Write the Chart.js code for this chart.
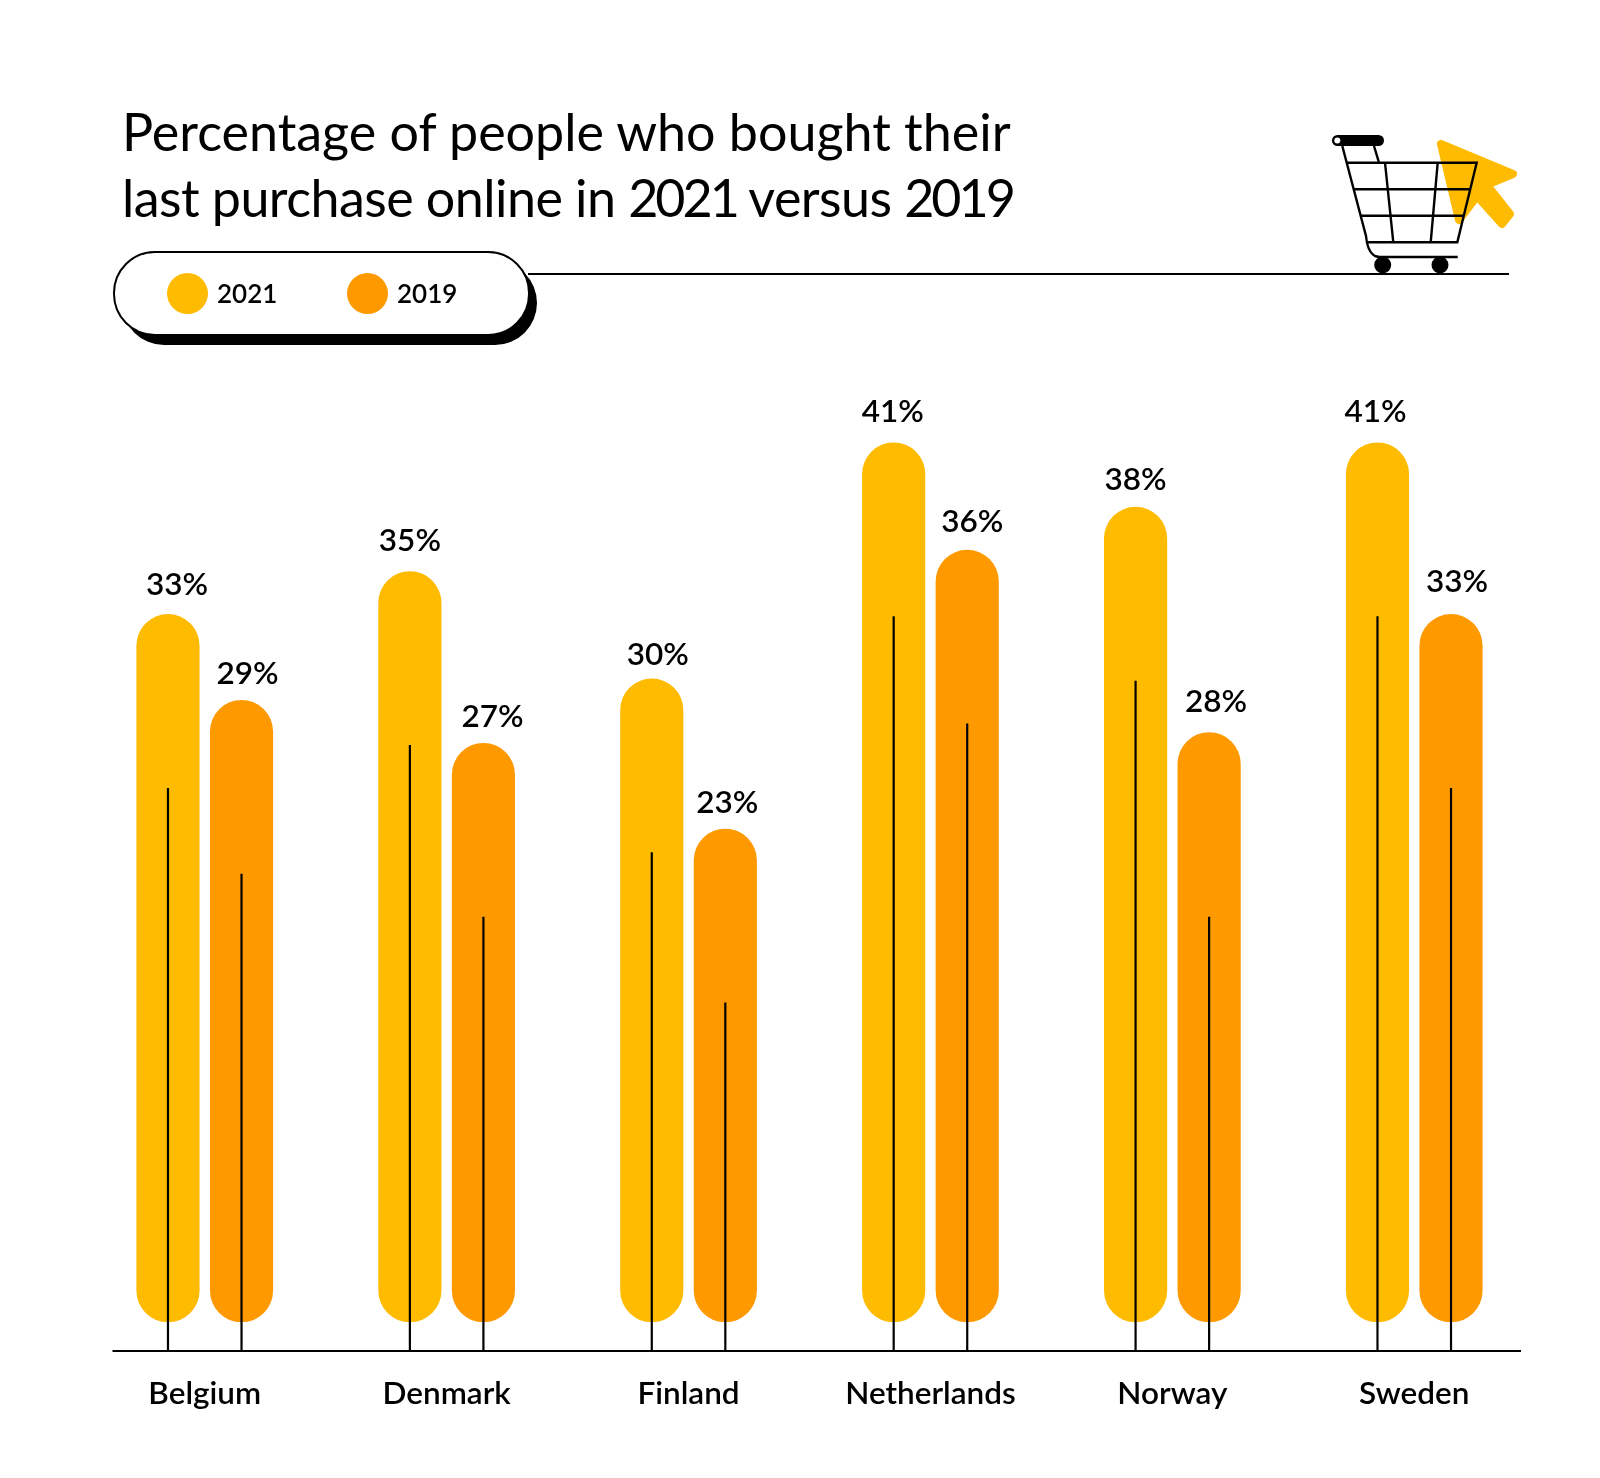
<!DOCTYPE html>
<html><head><meta charset="utf-8">
<script src="https://cdn.jsdelivr.net/npm/chart.js@4"></script>
<style>
html,body{margin:0;padding:0;background:#fff;width:1600px;height:1478px;overflow:hidden}
#wrap{position:relative;width:1600px;height:1478px}
canvas{position:absolute;left:0;top:0}
.t{position:absolute;font-family:Lato,sans-serif;color:#000;white-space:nowrap}
#title{left:122px;top:98px;font-size:52px;line-height:66px}
#title .l2{letter-spacing:-.55px}
#title .d{letter-spacing:-3px}
#shadow{position:absolute;left:122px;top:261px;width:415px;height:84px;border-radius:42px;background:#000}
#pill{position:absolute;left:113px;top:251px;width:413px;height:81px;border:2px solid #000;border-radius:42px;background:#fff}
.dot{position:absolute;top:273px;width:41px;height:41px;border-radius:50%}
.leg{top:276px;font-size:26px;line-height:34px;font-weight:600}
svg{position:absolute;left:0;top:0}
</style></head><body>
<div id="wrap">
<canvas id="c" width="1600" height="1478"></canvas>
<svg width="1600" height="1478" fill="none" stroke="#000">
<line x1="528" y1="274" x2="1509" y2="274" stroke-width="2.2"/>
<polygon points="1441,144 1513,174 1484,186 1491,190 1510,214 1502,224 1477,196 1459,220" fill="#FFBB00" stroke="#FFBB00" stroke-width="8" stroke-linejoin="round"/>
<g stroke-width="2.4">
<path d="M1342.3 146 L1366 236 Q1368 257 1380 257 L1457.7 257"/>
<path d="M1374 146 L1379 162.7"/>
<path d="M1346.7 162.7 H1476.7 L1457.3 242.3 H1366.7"/>
<path d="M1353.3 189.3 H1470 M1360 215.7 H1463.3"/>
<path d="M1385 162.7 L1393.3 242.3 M1437.7 162.7 L1430.7 242.3"/>
</g>
<rect x="1332" y="135" width="52" height="11" rx="5.5" fill="#000" stroke="none"/>
<circle cx="1337.3" cy="140.5" r="3" fill="#fff" stroke="none"/>
<circle cx="1382.7" cy="265" r="8.5" fill="#000" stroke="none"/>
<circle cx="1440" cy="265" r="8.5" fill="#000" stroke="none"/>
</svg>
<div id="shadow"></div><div id="pill"></div>
<div class="t" id="title">Percentage of people who bought their<br><span class="l2">last purchase online in <span class="d">2021</span> versus <span class="d">2019</span></span></div>
<div class="dot" style="left:167px;background:#FFBB00"></div><div class="t leg" style="left:217px">2021</div>
<div class="dot" style="left:347px;background:#FF9900"></div><div class="t leg" style="left:397px">2019</div>
</div>
<script>
const categories = ["Belgium","Denmark","Finland","Netherlands","Norway","Sweden"];
const values2021 = [33,35,30,41,38,41];
const values2019 = [29,27,23,36,27.5,33];
const stems2021 = [24.9,26.9,21.9,32.9,29.9,32.9];
const stems2019 = [20.9,18.9,14.9,27.9,18.9,24.9];
const seriesNames = ["2021","2019"];
const labelDx = [[9,0,6,-1,0,-2],[6,9,2,5,7,6]];
const labelGap = [[29,30,24,31,27,31],[26,26,26,28,30,32]];
const stems = [stems2021,stems2019];

const overlay = {
  id:'overlay',
  afterDatasetsDraw(chart){
    const ctx = chart.ctx, yScale = chart.scales.y, zero = yScale.getPixelForValue(0);
    const axisY = zero + 28.7;
    ctx.save();
    ctx.strokeStyle='#000';ctx.lineWidth=2.2;
    ctx.beginPath();ctx.moveTo(112.5,axisY);ctx.lineTo(1521,axisY);ctx.stroke();
    ctx.fillStyle='#000';ctx.font='600 31.5px Lato';ctx.textAlign='center';ctx.textBaseline='middle';
    chart.data.datasets.forEach((ds,d)=>{
      chart.getDatasetMeta(d).data.forEach((bar,i)=>{
        ctx.beginPath();ctx.moveTo(bar.x,yScale.getPixelForValue(stems[d][i]));ctx.lineTo(bar.x,axisY);ctx.stroke();
        ctx.fillText(Math.round(ds.data[i])+'%',bar.x+labelDx[d][i],bar.y-labelGap[d][i]);
      });
    });
    ctx.restore();
  }
};
new Chart(document.getElementById('c'),{
  type:'bar',
  data:{labels:categories,datasets:[
    {label:seriesNames[0],data:values2021,backgroundColor:'#FFBB00'},
    {label:seriesNames[1],data:values2019,backgroundColor:'#FF9900'}
  ].map(d=>Object.assign(d,{barPercentage:0.859,categoryPercentage:0.608,borderRadius:32,borderSkipped:false}))},
  options:{responsive:false,animation:false,devicePixelRatio:1,
    layout:{padding:{left:83.8,right:64.8,top:249.3,bottom:0}},
    plugins:{legend:{display:false},tooltip:{enabled:false}},
    scales:{
      x:{grid:{display:false,drawTicks:false},border:{display:false},
        ticks:{color:'#000',font:{family:'Lato',size:31.5,weight:600},padding:53,maxRotation:0,autoSkip:false},
        afterFit(s){s.height=155.7}},
      y:{display:false,min:0,max:50}
    }},
  plugins:[overlay]
});
</script>
</body></html>
